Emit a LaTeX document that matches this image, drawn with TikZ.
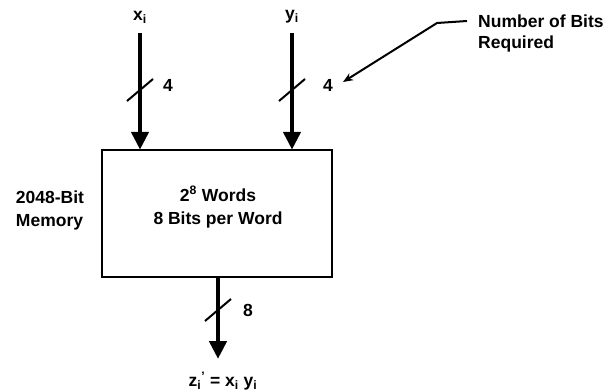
\documentclass[tikz,border=0pt]{standalone}
\usepackage{fontspec}
\setmainfont{Liberation Sans}
\usetikzlibrary{arrows.meta}
\begin{document}
\begin{tikzpicture}[x=1pt,y=-1pt,
  lbl/.style={font=\fontsize{17.5}{23}\selectfont\bfseries, inner sep=1pt},
  bus/.style={line width=4.5pt, -{Triangle[width=17pt,length=18pt]}, shorten >=-1pt},
  slash/.style={line width=2pt},
  ptr/.style={line width=2pt, -{Stealth[width=8pt,length=10pt]}},
  membox/.style={draw, line width=2.5pt, minimum width=230pt, minimum height=127pt, inner sep=0pt}]
\useasboundingbox (0,0) rectangle (616,391);
% memory box
\node[membox] (box) at (217,213.5) {};
\node[lbl, align=center] (boxtext) at (218,207) {2\textsuperscript{8} Words\\8 Bits per Word};
\node[lbl, align=left] (mem) at (50,210) {2048-Bit\\Memory};
% inputs
\node[lbl] (xlab) at (140,17) {x\textsubscript{i}};
\node[lbl] (ylab) at (292,17) {y\textsubscript{i}};
\coordinate (xin) at (140,33);
\coordinate (yin) at (292,33);
\draw[bus] (xin) -- (xin |- box.north);
\draw[bus] (yin) -- (yin |- box.north);
\draw[slash] (127,101) -- (153,79);
\draw[slash] (279,101) -- (305,79);
\node[lbl] (xw) at (168,85) {4};
\node[lbl] (yw) at (328,85) {4};
% output
\coordinate (zout) at (218,358);
\draw[bus] (zout |- box.south) -- (zout);
\draw[slash] (205,321) -- (231,299);
\node[lbl] (zw) at (248,310) {8};
\node[lbl] (zlab) at (223,381) {z\textsubscript{i}\textsuperscript{'} = x\textsubscript{i} y\textsubscript{i}};
% note
\node[lbl, anchor=west] (note1) at (477,21) {Number of Bits};
\node[lbl, anchor=west] (note2) at (477,44) {Required};
\coordinate (bend) at (437,23);
\coordinate (tip) at (343,82);
\draw[ptr] ([xshift=-10pt]note1.west) -- (bend) -- (tip);
\end{tikzpicture}
\end{document}
